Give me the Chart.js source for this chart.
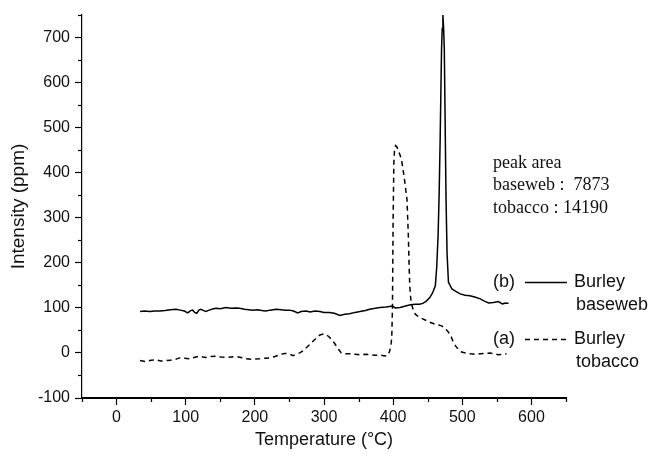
<!DOCTYPE html>
<html>
<head>
<meta charset="utf-8">
<script src="https://cdn.jsdelivr.net/npm/chart.js@4.4.1/dist/chart.umd.min.js"></script>
<style>
    html, body { margin: 0; padding: 0; background: #fff; }
</style>
</head>
<body>
<canvas id="chartTpd" width="653" height="457"></canvas>
<script>
// Courbe (b) : Burley baseweb (trait plein)
const tempBaseweb = [34, 40, 48, 55, 62, 70, 78, 86, 92, 98, 103, 107, 110, 113, 116, 119, 122, 126, 129, 134,
    140, 144, 150, 158, 165, 172, 178, 185, 191, 197, 204, 210, 216, 222, 231, 238, 244, 250, 256, 262,
    267, 274, 280, 287, 294, 300, 308, 315, 323, 330, 337, 345, 352, 360, 366, 374, 381, 390, 399, 403,
    410, 418, 425, 432, 438, 443, 448, 453, 457, 461, 463, 465, 466.5, 468, 470, 471, 472, 473, 474, 475.5,
    476.5, 478, 480, 483, 485, 490, 497, 504, 511, 518, 526, 532, 538, 545, 552, 558, 563, 567];
const intensityBaseweb = [92, 93, 92, 93, 93, 94, 96, 97, 95, 93, 89, 94, 95, 90, 88, 95, 97, 94, 92, 95,
    98, 99, 98, 101, 99, 100, 99, 97, 96, 95, 96, 94, 93, 95, 97, 96, 95, 95, 93, 89,
    92, 93, 91, 93, 92, 90, 90, 88, 83, 86, 87, 90, 92, 94, 97, 99, 101, 102, 104, 100,
    101, 104, 107, 108, 108, 110, 115, 123, 133, 149, 190, 260, 350, 474, 674, 720, 750, 720, 674, 474,
    341, 220, 157, 148, 142, 137, 131, 128, 127, 124, 120, 115, 111, 112, 114, 109, 111, 110];

// Courbe (a) : Burley tobacco (pointillés)
const tempTobacco = [34, 42, 50, 57, 64, 71, 78, 84, 91, 98, 105, 112, 120, 125, 129, 136, 144, 151, 158, 166,
    173, 180, 187, 197, 207, 214, 221, 229, 236, 243, 250, 255, 260, 265, 270, 274, 279, 284, 289, 294,
    299, 303, 307, 311, 315, 318, 322, 325, 331, 337, 345, 352, 359, 366, 374, 381, 386, 390, 393, 395,
    397, 398, 399, 399.5, 400, 401, 402, 403.5, 405, 407, 409, 412, 414, 416, 418, 420, 422, 423, 424, 425.5,
    428, 432, 437, 442, 448, 453, 460, 466, 470, 475, 480, 484, 487, 491, 495, 499, 505, 512, 519, 526,
    533, 540, 546, 552, 558, 564];
const intensityTobacco = [-17, -19, -16, -15, -18, -17, -16, -15, -11, -12, -13, -10, -7, -9, -10, -8, -7, -9, -10, -9,
    -8, -10, -13, -14, -13, -12, -11, -8, -4, -1, -2, -6, -3, 0, 5, 11, 18, 26, 33, 40,
    42, 41, 36, 30, 22, 15, 6, 0, -2, -2, -3, -4, -3, -4, -5, -5, -6, -7, -4, 4,
    20, 34, 100, 200, 300, 420, 450, 460, 458, 452, 443, 430, 410, 390, 365, 341, 260, 200, 150, 120,
    100, 86, 80, 76, 72, 68, 64, 62, 60, 55, 46, 36, 24, 14, 7, 2, 0, -2, -3, -2,
    -1, 0, -2, -4, -3, -2];

// Graduations
const xTickLabels = [0, 100, 200, 300, 400, 500, 600];
const yTickLabels = [-100, 0, 100, 200, 300, 400, 500, 600, 700];

// Textes
const legendLabels = [['(b)', 'Burley', 'baseweb'], ['(a)', 'Burley', 'tobacco']];
const peakAreaLines = ['peak area', 'baseweb :  7873', 'tobacco : 14190'];

const sansFont = "'Liberation Sans', Arial, sans-serif";
const serifFont = "'Liberation Serif', 'Times New Roman', serif";

const pointsBaseweb = tempBaseweb.map((t, i) => ({ x: t, y: intensityBaseweb[i] }));
const pointsTobacco = tempTobacco.map((t, i) => ({ x: t, y: intensityTobacco[i] }));

// Petites graduations, légende et texte "peak area"
const decorPlugin = {
    id: 'decor',
    afterDraw(chart) {
        const ctx = chart.ctx;
        const xs = chart.scales.x;
        const ys = chart.scales.y;
        ctx.save();
        ctx.strokeStyle = '#000';
        ctx.lineWidth = 1.2;

        // graduations mineures (tous les 50)
        xs.ticks.forEach(t => {
            if (!xTickLabels.includes(t.value)) {
                const px = Math.round(xs.getPixelForValue(t.value)) + 0.5;
                ctx.beginPath();
                ctx.moveTo(px, xs.top);
                ctx.lineTo(px, xs.top + 4);
                ctx.stroke();
            }
        });
        ys.ticks.forEach(t => {
            if (!yTickLabels.includes(t.value)) {
                const py = Math.round(ys.getPixelForValue(t.value)) + 0.5;
                ctx.beginPath();
                ctx.moveTo(ys.right - 4, py);
                ctx.lineTo(ys.right, py);
                ctx.stroke();
            }
        });

        // légende
        ctx.fillStyle = '#111';
        ctx.textBaseline = 'middle';
        ctx.font = '18px ' + sansFont;
        const legendY = [282, 339];
        legendLabels.forEach((lab, i) => {
            const ds = chart.data.datasets[i];
            const y = legendY[i];
            ctx.fillText(lab[0], 493, y);
            ctx.beginPath();
            ctx.setLineDash(ds.borderDash || []);
            ctx.lineWidth = ds.borderWidth;
            ctx.strokeStyle = ds.borderColor;
            ctx.moveTo(525, y + 0.5);
            ctx.lineTo(567, y + 0.5);
            ctx.stroke();
            ctx.setLineDash([]);
            ctx.fillText(lab[1], 574, y);
            ctx.fillText(lab[2], 576, y + 23);
        });

        // aires des pics
        ctx.font = '18px ' + serifFont;
        peakAreaLines.forEach((txt, i) => {
            ctx.fillText(txt, 493, 163 + i * 22.5);
        });
        ctx.restore();
    }
};

const chartTpd = document.getElementById('chartTpd');

var chart = new Chart(chartTpd, {
    type: 'line',
    data: {
        datasets: [{
            label: 'Burley baseweb',
            data: pointsBaseweb,
            borderColor: '#000',
            borderWidth: 1.5,
            pointRadius: 0,
            tension: 0,
            fill: false
        }, {
            label: 'Burley tobacco',
            data: pointsTobacco,
            borderColor: '#000',
            borderWidth: 1.5,
            borderDash: [5, 4],
            pointRadius: 0,
            tension: 0,
            fill: false
        }]
    },
    options: {
        responsive: false,
        animation: false,
        parsing: false,
        layout: {
            padding: { top: 15, right: 87, left: 0, bottom: 0 }
        },
        plugins: {
            legend: { display: false },
            tooltip: { enabled: false }
        },
        scales: {
            x: {
                type: 'linear',
                min: -50,
                max: 650,
                afterFit: s => { s.height = 59; },
                ticks: {
                    stepSize: 50,
                    autoSkip: false,
                    maxRotation: 0,
                    padding: 3,
                    color: '#111',
                    font: { family: sansFont, size: 16 },
                    callback: v => xTickLabels.includes(v) ? v : ''
                },
                grid: {
                    drawOnChartArea: false,
                    tickLength: 7,
                    tickWidth: 1.2,
                    tickColor: c => (c.tick && xTickLabels.includes(c.tick.value)) ? '#000' : 'rgba(0,0,0,0)'
                },
                border: { color: '#000', width: 2 },
                title: {
                    display: true,
                    text: 'Temperature (°C)',
                    color: '#111',
                    font: { family: sansFont, size: 18 },
                    padding: { top: 0, bottom: 6 }
                }
            },
            y: {
                min: -100,
                max: 750,
                afterFit: s => { s.width = 82; },
                ticks: {
                    stepSize: 50,
                    autoSkip: false,
                    padding: 5,
                    color: '#111',
                    font: { family: sansFont, size: 16 },
                    callback: v => yTickLabels.includes(v) ? v : ''
                },
                grid: {
                    drawOnChartArea: false,
                    tickLength: 7,
                    tickWidth: 1.2,
                    tickColor: c => (c.tick && yTickLabels.includes(c.tick.value)) ? '#000' : 'rgba(0,0,0,0)'
                },
                border: { color: '#000', width: 1.2 },
                title: {
                    display: true,
                    text: 'Intensity (ppm)',
                    color: '#111',
                    font: { family: sansFont, size: 19 },
                    padding: { top: 7, bottom: 0 }
                }
            }
        }
    },
    plugins: [decorPlugin]
});
</script>
</body>
</html>
